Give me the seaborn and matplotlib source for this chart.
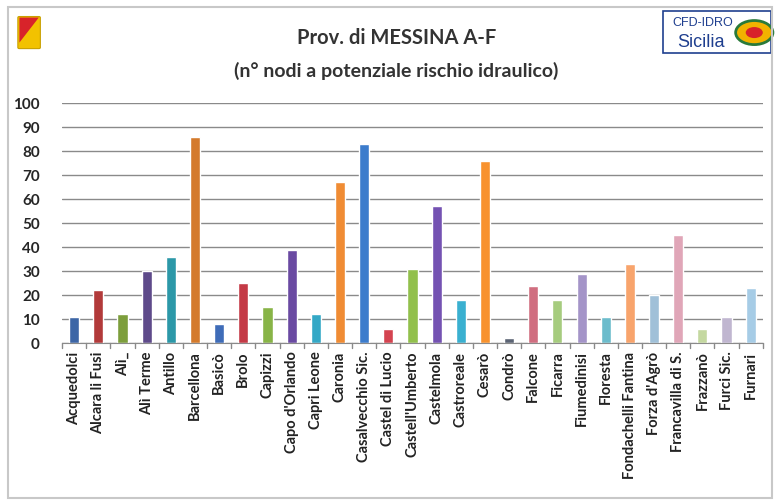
import matplotlib
matplotlib.use("Agg")
import matplotlib.pyplot as plt
import matplotlib.patches as mpatches
import seaborn as sns
import pandas as pd

# Comuni della provincia di Messina (A-F)
comuni = ["Acquedolci", "Alcara li Fusi", "Alì_", "Alì Terme", "Antillo", "Barcellona",
          "Basicò", "Brolo", "Capizzi", "Capo d'Orlando", "Capri Leone", "Caronia",
          "Casalvecchio Sic.", "Castel di Lucio", "Castell'Umberto", "Castelmola",
          "Castroreale", "Cesarò", "Condrò", "Falcone", "Ficarra", "Fiumedinisi",
          "Floresta", "Fondachelli Fantina", "Forza d'Agrò", "Francavilla di S.",
          "Frazzanò", "Furci Sic.", "Furnari"]
nodi = [11, 22, 12, 30, 36, 86, 8, 25, 15, 39, 12, 67, 83, 6, 31, 57, 18, 76,
        2, 24, 18, 29, 11, 33, 20, 45, 6, 11, 23]
colori = ["#3d66a6", "#b23a3a", "#7d9e3c", "#5e4a8a", "#2c98a8", "#d47a2c",
          "#3f6cb8", "#c43a46", "#88b447", "#6a4aa2", "#34a8c6", "#f08c34",
          "#3c7ccc", "#d44450", "#92c04c", "#7452b2", "#3ab0d0", "#f8922e",
          "#5c6474", "#d06e80", "#a6cc7e", "#a494c8", "#6cbccc", "#f8a46c",
          "#a0c0d8", "#e0a6b8", "#c4d8a0", "#c0b6d0", "#a6cce6"]

df = pd.DataFrame({"comune": comuni, "nodi": nodi})

sns.set_style("white")
plt.rcParams["font.family"] = ["Lato", "DejaVu Sans"]

fig = plt.figure(figsize=(7.76, 5.01), dpi=100)
ax = fig.add_axes([0.080, 0.315, 0.903, 0.479])

sns.barplot(data=df, x="comune", y="nodi", hue="comune", palette=colori,
            width=0.42, legend=False, ax=ax, saturation=1)

ax.set_ylim(0, 100)
ax.set_xlim(-0.5, len(comuni) - 0.5)
ax.set_yticks(range(0, 101, 10))
ax.yaxis.grid(True, color="#8a8a8a", linewidth=1)
ax.set_axisbelow(True)
ax.set_xlabel("")
ax.set_ylabel("")
for s in ["top", "right", "left"]:
    ax.spines[s].set_visible(False)
ax.spines["bottom"].set_color("#8a8a8a")

ax.set_xticks(range(len(comuni)))
ax.set_xticklabels(comuni, rotation=90, fontsize=10.5, fontweight="bold",
                   color="#222222")
ax.tick_params(axis="x", length=0, pad=6)
ax.tick_params(axis="y", length=0, labelsize=11, pad=16)
for lab in ax.get_yticklabels():
    lab.set_fontweight("bold")
# tick marks between categories
for i in range(len(comuni) + 1):
    ax.plot([i - 0.5, i - 0.5], [0, -2.2], color="#8a8a8a", lw=1, clip_on=False)

fig.text(0.511, 0.925, "Prov. di MESSINA A-F", ha="center", va="center",
         fontsize=14.5, fontweight="bold", color="#333333")
fig.text(0.511, 0.858, "(n° nodi a potenziale rischio idraulico)", ha="center",
         va="center", fontsize=14, fontweight="bold", color="#333333")

# stemma della Regione (semplificato)
fig.patches.append(mpatches.FancyBboxPatch((0.025, 0.905), 0.025, 0.06,
                   boxstyle="round,pad=0.002", transform=fig.transFigure,
                   facecolor="#f2c200", edgecolor="#c8a000", lw=0.8))
fig.patches.append(mpatches.Polygon([[0.025, 0.965], [0.050, 0.965], [0.025, 0.915]],
                   closed=True, transform=fig.transFigure, facecolor="#d8232a",
                   edgecolor="none"))

# logo CFD-IDRO Sicilia (semplificato)
fig.patches.append(mpatches.Rectangle((0.855, 0.895), 0.138, 0.083,
                   transform=fig.transFigure, facecolor="white",
                   edgecolor="#1f3f8f", lw=1.2))
fig.text(0.905, 0.955, "CFD-IDRO", ha="center", va="center", fontsize=9,
         color="#1f3f8f", family="Liberation Sans")
fig.text(0.903, 0.915, "Sicilia", ha="center", va="center", fontsize=13,
         color="#1f3f8f", family="Liberation Sans")
fig.patches.append(mpatches.Circle((0.972, 0.935), 0.024, transform=fig.transFigure,
                   facecolor="#f2b200", edgecolor="#2a7a3a", lw=2))
fig.patches.append(mpatches.Circle((0.972, 0.935), 0.011, transform=fig.transFigure,
                   facecolor="#d8232a", edgecolor="none"))

# cornice
fig.patches.append(mpatches.Rectangle((0.010, 0.006), 0.985, 0.980,
                   transform=fig.transFigure, facecolor="none",
                   edgecolor="#c8c8c8", lw=1.5))

fig.savefig("out.png", dpi=100)
